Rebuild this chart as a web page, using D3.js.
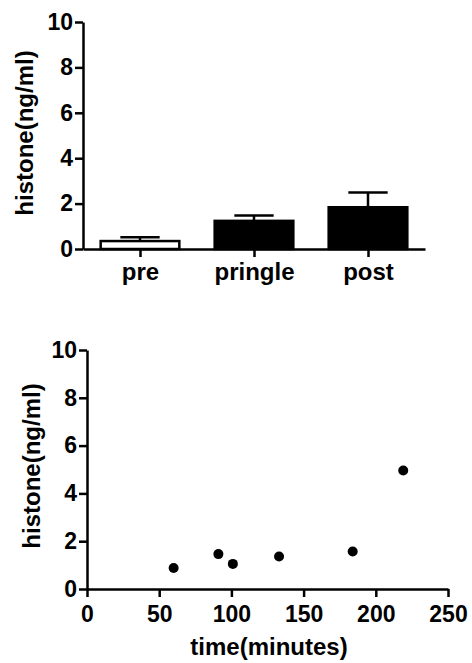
<!DOCTYPE html>
<html>
<head>
<meta charset="utf-8">
<script src="https://cdn.jsdelivr.net/npm/d3@7"></script>
<style>
  html, body { margin: 0; padding: 0; background: #fff; }
  svg { display: block; font-family: "Liberation Sans", Arial, sans-serif; font-weight: bold; }
  .axis path, .axis line { stroke: #000; stroke-width: 2.5px; }
  .axis text { fill: #000; font-size: 23px; font-weight: bold; }
</style>
</head>
<body>
<svg id="chart" width="472" height="663"></svg>
<script>
// Top panel: bar chart with error bars
const groups = ['pre', 'pringle', 'post'];
const groupMeans = [0.35, 1.24, 1.84];
const groupErrTops = [0.52, 1.48, 2.49];
const groupFills = ['#fff', '#000', '#000'];

// Bottom panel: scatter
const timeMinutes = [60, 91, 101, 133, 184, 219];
const histoneValues = [0.88, 1.46, 1.05, 1.36, 1.57, 4.96];

const yTicks = [0, 2, 4, 6, 8, 10];
const xTicks = [0, 50, 100, 150, 200, 250];

const svg = d3.select('#chart');

// ---------- top bar chart ----------
const topBox = { left: 83, right: 425, top: 22, bottom: 249 };

const xBand = d3.scalePoint()
    .domain(groups)
    .range([topBox.left, topBox.right])
    .padding(0.5);
const barW = xBand.step() * 0.69;

const yTop = d3.scaleLinear()
    .domain([0, 10])
    .range([topBox.bottom, topBox.top]);

const gTop = svg.append('g');

// bars
gTop.selectAll('.bar')
    .data(groups)
    .join('rect')
    .attr('class', 'bar')
    .attr('x', d => xBand(d) - barW / 2)
    .attr('y', (d, i) => yTop(groupMeans[i]))
    .attr('width', barW)
    .attr('height', (d, i) => yTop(0) - yTop(groupMeans[i]))
    .attr('fill', (d, i) => groupFills[i])
    .attr('stroke', '#000')
    .attr('stroke-width', 2.5);

// error bars (upper only)
gTop.selectAll('.err')
    .data(groups)
    .join('line')
    .attr('class', 'err')
    .attr('x1', d => xBand(d))
    .attr('x2', d => xBand(d))
    .attr('y1', (d, i) => yTop(groupMeans[i]))
    .attr('y2', (d, i) => yTop(groupErrTops[i]))
    .attr('stroke', '#000')
    .attr('stroke-width', 2.5);

gTop.selectAll('.cap')
    .data(groups)
    .join('line')
    .attr('class', 'cap')
    .attr('x1', d => xBand(d) - barW / 4)
    .attr('x2', d => xBand(d) + barW / 4)
    .attr('y1', (d, i) => yTop(groupErrTops[i]))
    .attr('y2', (d, i) => yTop(groupErrTops[i]))
    .attr('stroke', '#000')
    .attr('stroke-width', 2.5);

// axes
gTop.append('g')
    .attr('class', 'axis')
    .attr('transform', `translate(0,${topBox.bottom})`)
    .call(d3.axisBottom(xBand).tickSize(8).tickSizeOuter(0).tickPadding(6))
    .selectAll('text').style('font-size', '24px');

gTop.append('g')
    .attr('class', 'axis')
    .attr('transform', `translate(${topBox.left},0)`)
    .call(d3.axisLeft(yTop).tickValues(yTicks).tickSize(8).tickSizeOuter(0).tickPadding(2));

gTop.append('text')
    .attr('transform', 'translate(33,133) rotate(-90)')
    .attr('text-anchor', 'middle')
    .attr('font-size', '24px')
    .text('histone(ng/ml)');

// ---------- bottom scatter ----------
const botBox = { left: 87, right: 448, top: 350, bottom: 589 };

const xTime = d3.scaleLinear()
    .domain([0, 250])
    .range([botBox.left, botBox.right]);

const yBot = d3.scaleLinear()
    .domain([0, 10])
    .range([botBox.bottom, botBox.top]);

const gBot = svg.append('g');

gBot.append('g')
    .attr('class', 'axis')
    .attr('transform', `translate(0,${botBox.bottom})`)
    .call(d3.axisBottom(xTime).tickValues(xTicks).tickSize(8).tickSizeOuter(0).tickPadding(9));

gBot.append('g')
    .attr('class', 'axis')
    .attr('transform', `translate(${botBox.left},0)`)
    .call(d3.axisLeft(yBot).tickValues(yTicks).tickSize(8).tickSizeOuter(0).tickPadding(2));

gBot.selectAll('.dot')
    .data(timeMinutes)
    .join('circle')
    .attr('class', 'dot')
    .attr('cx', d => xTime(d))
    .attr('cy', (d, i) => yBot(histoneValues[i]))
    .attr('r', 5)
    .attr('fill', '#000');

gBot.append('text')
    .attr('transform', 'translate(40,466) rotate(-90)')
    .attr('text-anchor', 'middle')
    .attr('font-size', '24px')
    .text('histone(ng/ml)');

gBot.append('text')
    .attr('x', 269)
    .attr('y', 655)
    .attr('text-anchor', 'middle')
    .attr('font-size', '24px')
    .text('time(minutes)');
</script>
</body>
</html>
